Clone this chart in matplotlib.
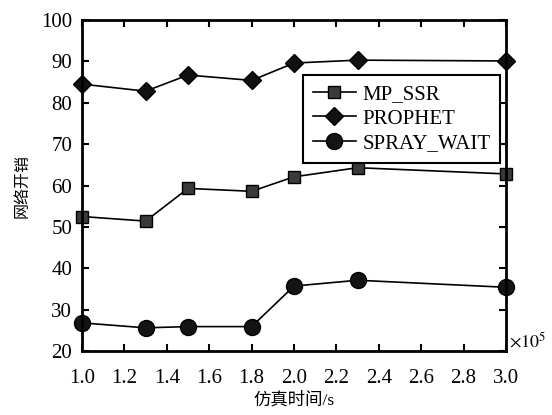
import numpy as np
import matplotlib
matplotlib.use("Agg")
import matplotlib.pyplot as plt

plt.rcParams['font.family'] = ['Liberation Serif', 'Noto Sans CJK SC']
plt.rcParams['mathtext.fontset'] = 'stix'

# simulation time (x1e5 s) and network overhead per protocol
sim_time = [1.0, 1.3, 1.5, 1.8, 2.0, 2.3, 3.0]
mp_ssr = [52.5, 51.4, 59.3, 58.6, 62.1, 64.3, 62.8]
prophet = [84.5, 82.8, 86.7, 85.4, 89.6, 90.3, 90.1]
spray_wait = [26.8, 25.6, 25.9, 25.9, 35.7, 37.1, 35.4]

fig = plt.figure(figsize=(5.52, 4.15), dpi=100)
ax = fig.add_axes([0.1486, 0.1542, 0.7681, 0.7976])

ax.plot(sim_time, mp_ssr, color='black', lw=1.2, marker='s', ms=9,
        mfc='#3a3a3a', mec='black', mew=1.0, label='MP_SSR', clip_on=False)
ax.plot(sim_time, prophet, color='black', lw=1.2, marker='D', ms=9.5,
        mfc='#111111', mec='black', label='PROPHET', clip_on=False)
ax.plot(sim_time, spray_wait, color='black', lw=1.2, marker='o', ms=11.5,
        mfc='#141414', mec='black', label='SPRAY_WAIT', clip_on=False)

ax.set_xlim(1.0, 3.0)
ax.set_ylim(20, 100)
ax.set_xticks(np.arange(1.0, 3.01, 0.2))
ax.set_xticklabels([f"{v:.1f}" for v in np.arange(1.0, 3.01, 0.2)])
ax.set_yticks(range(20, 101, 10))
ax.tick_params(direction='in', length=5, width=1.5, labelsize=15,
               top=True, right=True)
ax.tick_params(axis='x', pad=13)
ax.tick_params(axis='y', pad=7)
for s in ax.spines.values():
    s.set_linewidth(2)

ax.set_xlabel('仿真时间/s', fontsize=12.5, labelpad=3)
ax.set_ylabel('网络开销', fontsize=11.5, labelpad=8)
ax.text(1.008, 0.03, r'$\times 10^5$', transform=ax.transAxes, fontsize=13,
        ha='left', va='center')

leg = ax.legend(loc='upper right', bbox_to_anchor=(0.986, 0.834), fontsize=15,
                frameon=True, fancybox=False, edgecolor='black', framealpha=1,
                handlelength=2.1, borderpad=0.45, labelspacing=0.25,
                handletextpad=0.3, borderaxespad=0)
leg.get_frame().set_linewidth(1.5)

fig.savefig('out.png', dpi=100)
